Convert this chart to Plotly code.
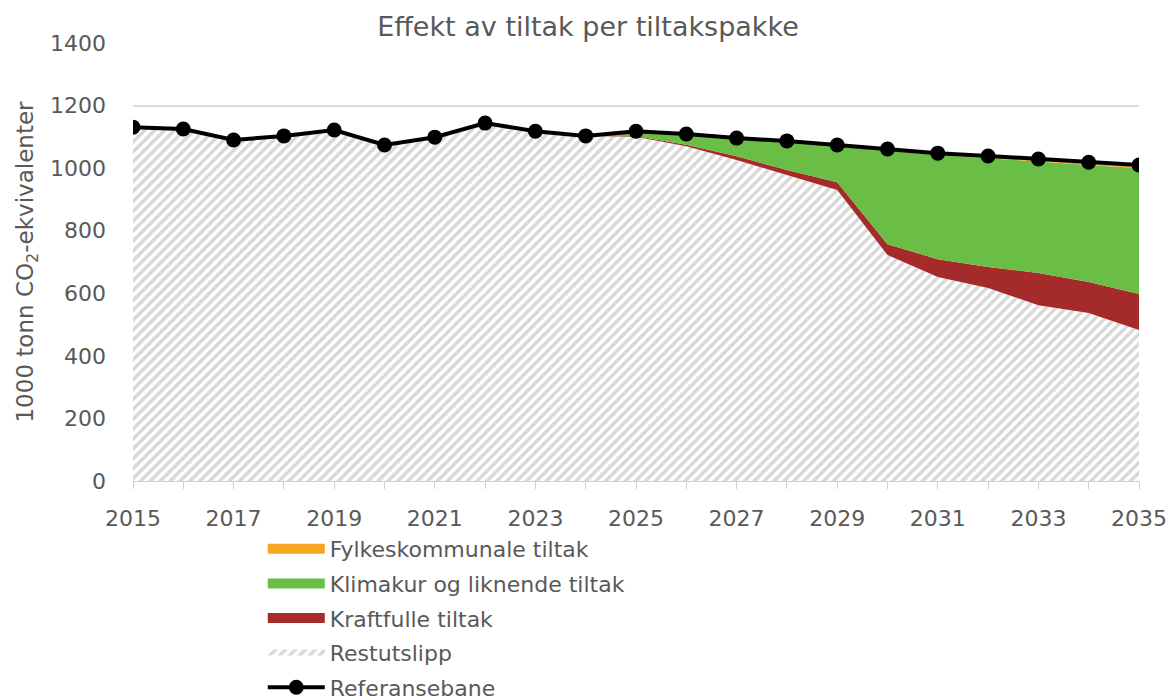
import plotly.graph_objects as go

years = list(range(2015, 2036))
referansebane = [1131, 1125, 1090, 1103, 1122, 1074, 1099, 1144, 1118, 1103,
                 1118, 1109, 1096, 1087, 1074, 1061, 1048, 1039, 1029, 1019, 1010]
restutslipp = [1131, 1125, 1090, 1103, 1122, 1074, 1099, 1144, 1118, 1103,
               1100, 1070, 1026, 978, 930, 722, 652, 617, 562, 537, 483]
kraftfulle = [0, 0, 0, 0, 0, 0, 0, 0, 0, 0,
              3, 5, 12, 16, 25, 35, 57, 67, 103, 99, 115]
klimakur = [0, 0, 0, 0, 0, 0, 0, 0, 0, 0,
            15, 33, 56, 90, 115, 299, 333, 348, 356, 374, 402]
fylkeskommunale = [0, 0, 0, 0, 0, 0, 0, 0, 0, 0,
                   0, 1, 2, 3, 4, 5, 6, 7, 8, 9, 10]
tick_labels = [str(y) if (y - 2015) % 2 == 0 else "" for y in years]

FONT = "DejaVu Sans"
TXT = "#595959"
C_RED = "#a52a2a"
C_GREEN = "#6abd45"
C_ORANGE = "#f5a623"

fig = go.Figure()
# stacked areas (bottom to top)
fig.add_trace(go.Scatter(
    x=years, y=restutslipp, name="Restutslipp", stackgroup="s",
    mode="none", fillcolor="white",
    fillpattern=dict(shape="/", size=7, solidity=0.5, fgcolor="#b0b0b0", bgcolor="white"),
    legendgroup="d", legendrank=4))
fig.add_trace(go.Scatter(
    x=years, y=kraftfulle, name="Kraftfulle tiltak", stackgroup="s",
    mode="none", fillcolor=C_RED, showlegend=False))
fig.add_trace(go.Scatter(
    x=years, y=klimakur, name="Klimakur og liknende tiltak", stackgroup="s",
    mode="none", fillcolor=C_GREEN, showlegend=False))
fig.add_trace(go.Scatter(
    x=years, y=fylkeskommunale, name="Fylkeskommunale tiltak", stackgroup="s",
    mode="none", fillcolor=C_ORANGE, showlegend=False))
fig.add_trace(go.Scatter(
    x=years, y=referansebane, name="Referansebane", mode="lines+markers",
    line=dict(color="black", width=4), marker=dict(color="black", size=15),
    legendgroup="e", legendrank=5))

# legend swatches for the coloured areas
for nm, col, grp, rk in [("Fylkeskommunale tiltak", C_ORANGE, "a", 1),
                         ("Klimakur og liknende tiltak", C_GREEN, "b", 2),
                         ("Kraftfulle tiltak", C_RED, "c", 3)]:
    fig.add_trace(go.Scatter(x=[None], y=[None], name=nm, mode="lines",
                             line=dict(color=col, width=15),
                             legendgroup=grp, legendrank=rk, hoverinfo="skip"))

# page body has an 8px margin, so the figure is drawn 8px smaller
W, H = 1166, 692
fig.update_layout(
    width=W, height=H,
    margin=dict(l=125, r=35, t=35, b=219),
    plot_bgcolor="white", paper_bgcolor="white",
    font=dict(family=FONT, size=22, color=TXT),
    title=dict(text="Effekt av tiltak per tiltakspakke", x=580 / W, xanchor="center",
               y=1 - 19 / H, yanchor="middle", font=dict(size=27, color=TXT, family=FONT)),
    legend=dict(x=0.129, xref="paper", y=1 - 520 / H, yref="container",
                xanchor="left", yanchor="top",
                orientation="v", itemwidth=57, traceorder="grouped",
                tracegroupgap=3, font=dict(size=22, color=TXT, family=FONT),
                bgcolor="rgba(0,0,0,0)"),
    showlegend=True,
)
fig.update_xaxes(
    range=[2015, 2035], tickvals=years, ticktext=tick_labels,
    ticks="outside", ticklen=7, tickcolor="#d0d0d0", tickwidth=1,
    ticklabelstandoff=11,
    showline=True, linecolor="#d0d0d0", linewidth=1, automargin=False,
    showgrid=False, zeroline=False, tickfont=dict(size=22, color=TXT))
fig.update_yaxes(
    range=[0, 1400], dtick=200, showgrid=True, gridcolor="#d9d9d9", gridwidth=1.5,
    zeroline=False, showline=False, ticks="", tickfont=dict(size=22, color=TXT),
    ticklabelstandoff=26, automargin=False,
    title=dict(text="1000 tonn CO<sub>2</sub>-ekvivalenter", font=dict(size=23, color=TXT), standoff=9))

fig.write_html("out.html")
